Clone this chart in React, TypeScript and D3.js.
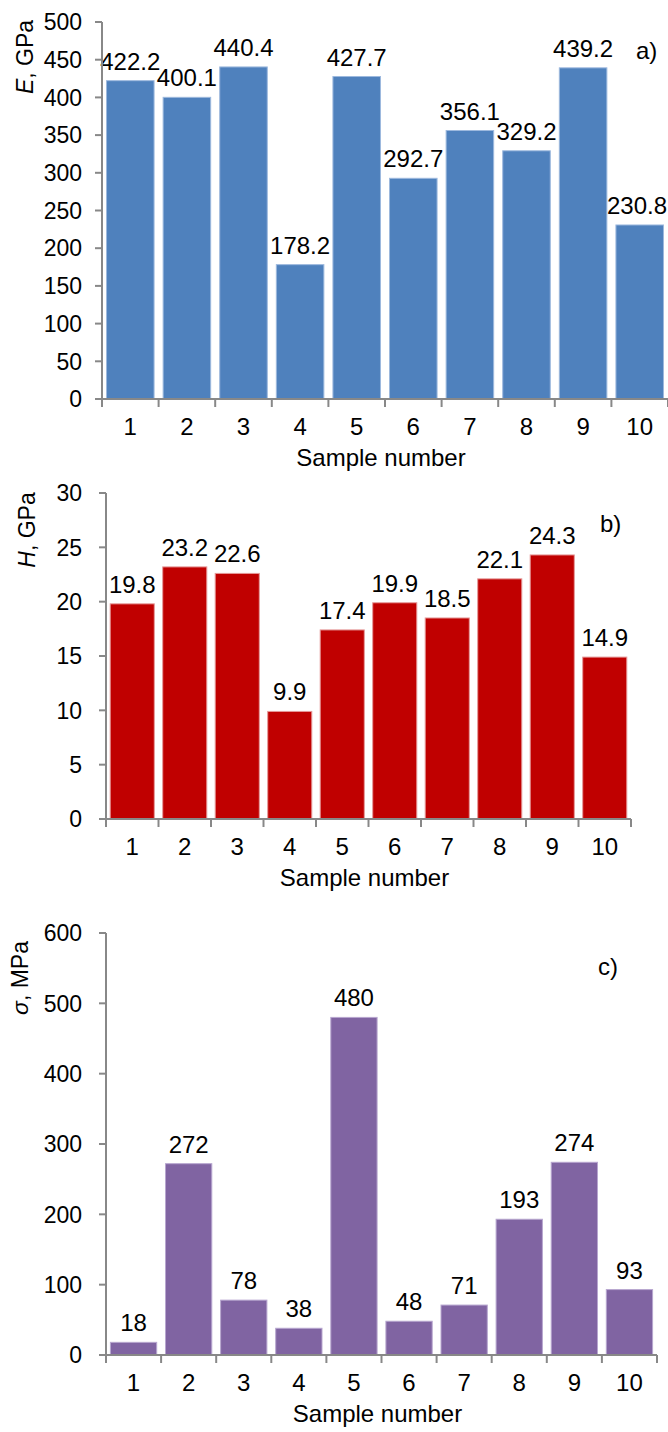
import React from "react";
import * as d3 from "d3";

const samples = ["1", "2", "3", "4", "5", "6", "7", "8", "9", "10"];
const eValues = [422.2, 400.1, 440.4, 178.2, 427.7, 292.7, 356.1, 329.2, 439.2, 230.8];
const eLabels = ["422.2", "400.1", "440.4", "178.2", "427.7", "292.7", "356.1", "329.2", "439.2", "230.8"];
const hValues = [19.8, 23.2, 22.6, 9.9, 17.4, 19.9, 18.5, 22.1, 24.3, 14.9];
const hLabels = ["19.8", "23.2", "22.6", "9.9", "17.4", "19.9", "18.5", "22.1", "24.3", "14.9"];
const sValues = [18, 272, 78, 38, 480, 48, 71, 193, 274, 93];
const sLabels = ["18", "272", "78", "38", "480", "48", "71", "193", "274", "93"];
const eTicks = [0, 50, 100, 150, 200, 250, 300, 350, 400, 450, 500];
const hTicks = [0, 5, 10, 15, 20, 25, 30];
const sTicks = [0, 100, 200, 300, 400, 500, 600];

const FONT = "Arial, 'Liberation Sans', sans-serif";
const FS = 24;
const FS_Y = 23;
const AXIS = "#888888";
const W = 668;

type PanelProps = {
  values: number[];
  labels: string[];
  ticks: number[];
  max: number;
  x0: number;
  x1: number;
  yZero: number;
  yTop: number;
  fill: string;
  edge: string;
  symbol: string;
  unit: string;
  titleX: number;
  titleY: number;
  italic: boolean;
  tag: string;
  tagX: number;
  tagY: number;
};

function Panel(p: PanelProps) {
  const x = d3.scaleBand<string>().domain(samples).range([p.x0, p.x1]).paddingInner(0.16).paddingOuter(0.08);
  const y = d3.scaleLinear().domain([0, p.max]).range([p.yZero, p.yTop]);
  const step = x.step();
  const bounds = d3.range(samples.length + 1).map((i) => p.x0 + i * step);
  return (
    <g fontFamily={FONT} fontSize={FS} fill="#000">
      {p.values.map((v, i) => (
        <rect
          key={"b" + i}
          x={x(samples[i])!}
          y={y(v)}
          width={x.bandwidth()}
          height={p.yZero - y(v)}
          fill={p.fill}
          stroke={p.edge}
          strokeWidth={1}
        />
      ))}
      {p.values.map((v, i) => {
        const half = (p.labels[i].replace(".", "").length * 0.556 + (p.labels[i].includes(".") ? 0.278 : 0)) * FS / 2;
        const cx = Math.min(x(samples[i])! + x.bandwidth() / 2, W - 1 - half);
        return (
          <text key={"v" + i} x={cx} y={y(v) - 11} textAnchor="middle">
            {p.labels[i]}
          </text>
        );
      })}
      <line x1={p.x0} x2={p.x0} y1={p.yTop} y2={p.yZero} stroke={AXIS} strokeWidth={2} />
      <line x1={p.x0 - 7} x2={p.x1} y1={p.yZero} y2={p.yZero} stroke={AXIS} strokeWidth={2} />
      {p.ticks.map((t) => (
        <g key={"t" + t}>
          <line x1={p.x0 - 7} x2={p.x0} y1={y(t)} y2={y(t)} stroke={AXIS} strokeWidth={2} />
          <text x={82} y={y(t)} dy="0.36em" textAnchor="end" fontSize={FS_Y}>
            {t}
          </text>
        </g>
      ))}
      {bounds.map((bx, i) => (
        <line key={"xt" + i} x1={bx} x2={bx} y1={p.yZero} y2={p.yZero + 8} stroke={AXIS} strokeWidth={2} />
      ))}
      {samples.map((s) => (
        <text key={"xl" + s} x={x(s)! + x.bandwidth() / 2} y={p.yZero + 36} textAnchor="middle">
          {s}
        </text>
      ))}
      <text x={(p.x0 + p.x1) / 2 - 4} y={p.yZero + 67} textAnchor="middle">
        Sample number
      </text>
      <text
        transform={`translate(${p.titleX},${p.titleY}) rotate(-90)`}
        textAnchor="middle"
        fontSize={FS_Y}
      >
        <tspan fontStyle={p.italic ? "italic" : "normal"}>{p.symbol}</tspan>
        <tspan>{p.unit}</tspan>
      </text>
      <text x={p.tagX} y={p.tagY}>
        {p.tag}
      </text>
    </g>
  );
}

export default function App() {
  return (
    <svg
      width={W}
      height={1432}
      style={{ position: "absolute", left: 0, top: 0, background: "#fff" }}
    >
      <rect x={0} y={0} width={W} height={1432} fill="#fff" />
      <Panel
        values={eValues}
        labels={eLabels}
        ticks={eTicks}
        max={500}
        x0={102}
        x1={668}
        yZero={399}
        yTop={22}
        fill="#4F81BD"
        edge="#9DB9DE"
        symbol="E"
        unit=", GPa"
        titleX={33}
        titleY={57}
        italic={true}
        tag="a)"
        tagX={636}
        tagY={59}
      />
      <Panel
        values={hValues}
        labels={hLabels}
        ticks={hTicks}
        max={30}
        x0={106}
        x1={631}
        yZero={819}
        yTop={493}
        fill="#C00000"
        edge="#E59A9A"
        symbol="H"
        unit=", GPa"
        titleX={35}
        titleY={530}
        italic={true}
        tag="b)"
        tagX={600}
        tagY={532}
      />
      <Panel
        values={sValues}
        labels={sLabels}
        ticks={sTicks}
        max={600}
        x0={106}
        x1={657}
        yZero={1355}
        yTop={933}
        fill="#8064A2"
        edge="#B7A6CF"
        symbol="σ"
        unit=", MPa"
        titleX={28}
        titleY={978}
        italic={true}
        tag="c)"
        tagX={598}
        tagY={975}
      />
    </svg>
  );
}
